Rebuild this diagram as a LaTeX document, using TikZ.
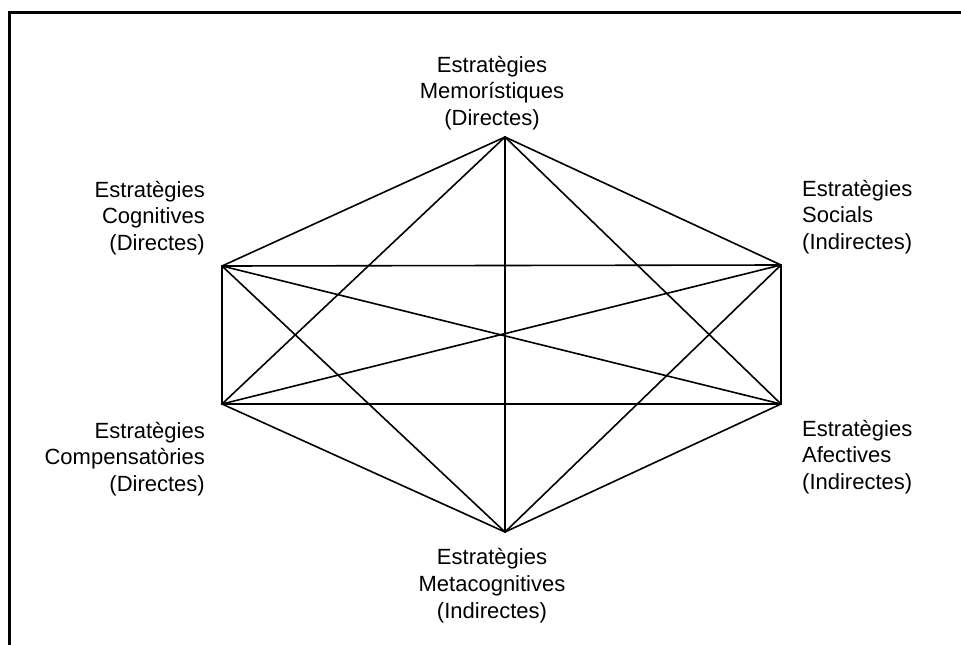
\documentclass[tikz,border=0pt]{standalone}
\usepackage{fontspec}
\setmainfont{Liberation Sans}
\begin{document}
\begin{tikzpicture}[x=1pt,y=-1pt,
  edge/.style={line width=1.6pt,line join=round,line cap=round},
  frameline/.style={line width=2.6pt},
  lbl/.style={inner sep=0pt,font=\fontsize{22}{26.5}\selectfont},
  lblc/.style={lbl,anchor=base},
  lble/.style={lbl,anchor=base east},
  lblw/.style={lbl,anchor=base west}]
\useasboundingbox (0,0) rectangle (961,645);

% open frame (left and top sides)
\draw[frameline] (9.5,645) -- (9.5,12.5) -- (961,12.5);

% hexagon vertices
\coordinate (T)  at (505,137);
\coordinate (UL) at (222,266);
\coordinate (UR) at (781,265);
\coordinate (LL) at (222,404);
\coordinate (LR) at (781,404);
\coordinate (B)  at (505,532);

% every vertex joined to every other one
\foreach \a/\b in {T/UL,T/UR,T/LL,T/LR,T/B,
                   UL/UR,UL/LL,UL/LR,UL/B,
                   UR/LL,UR/LR,UR/B,
                   LL/LR,LL/B,LR/B}
  \draw[edge] (\a) -- (\b);

% labels
\node[lblc] (t1) at (492,72)    {Estratègies};
\node[lblc] (t2) at (492,98.5)  {Memorístiques};
\node[lblc] (t3) at (492,125)   {(Directes)};

\node[lble] (ul1) at (205,197)   {Estratègies};
\node[lble] (ul2) at (205,223.5) {Cognitives};
\node[lble] (ul3) at (205,250)   {(Directes)};

\node[lblw] (ur1) at (802,196)   {Estratègies};
\node[lblw] (ur2) at (802,222.5) {Socials};
\node[lblw] (ur3) at (802,249)   {(Indirectes)};

\node[lble] (ll1) at (205,438)   {Estratègies};
\node[lble] (ll2) at (205,464.5) {Compensatòries};
\node[lble] (ll3) at (205,491)   {(Directes)};

\node[lblw] (lr1) at (802,436)   {Estratègies};
\node[lblw] (lr2) at (802,462.5) {Afectives};
\node[lblw] (lr3) at (802,489)   {(Indirectes)};

\node[lblc] (b1) at (492,564) {Estratègies};
\node[lblc] (b2) at (492,591) {Metacognitives};
\node[lblc] (b3) at (492,618) {(Indirectes)};
\end{tikzpicture}
\end{document}
